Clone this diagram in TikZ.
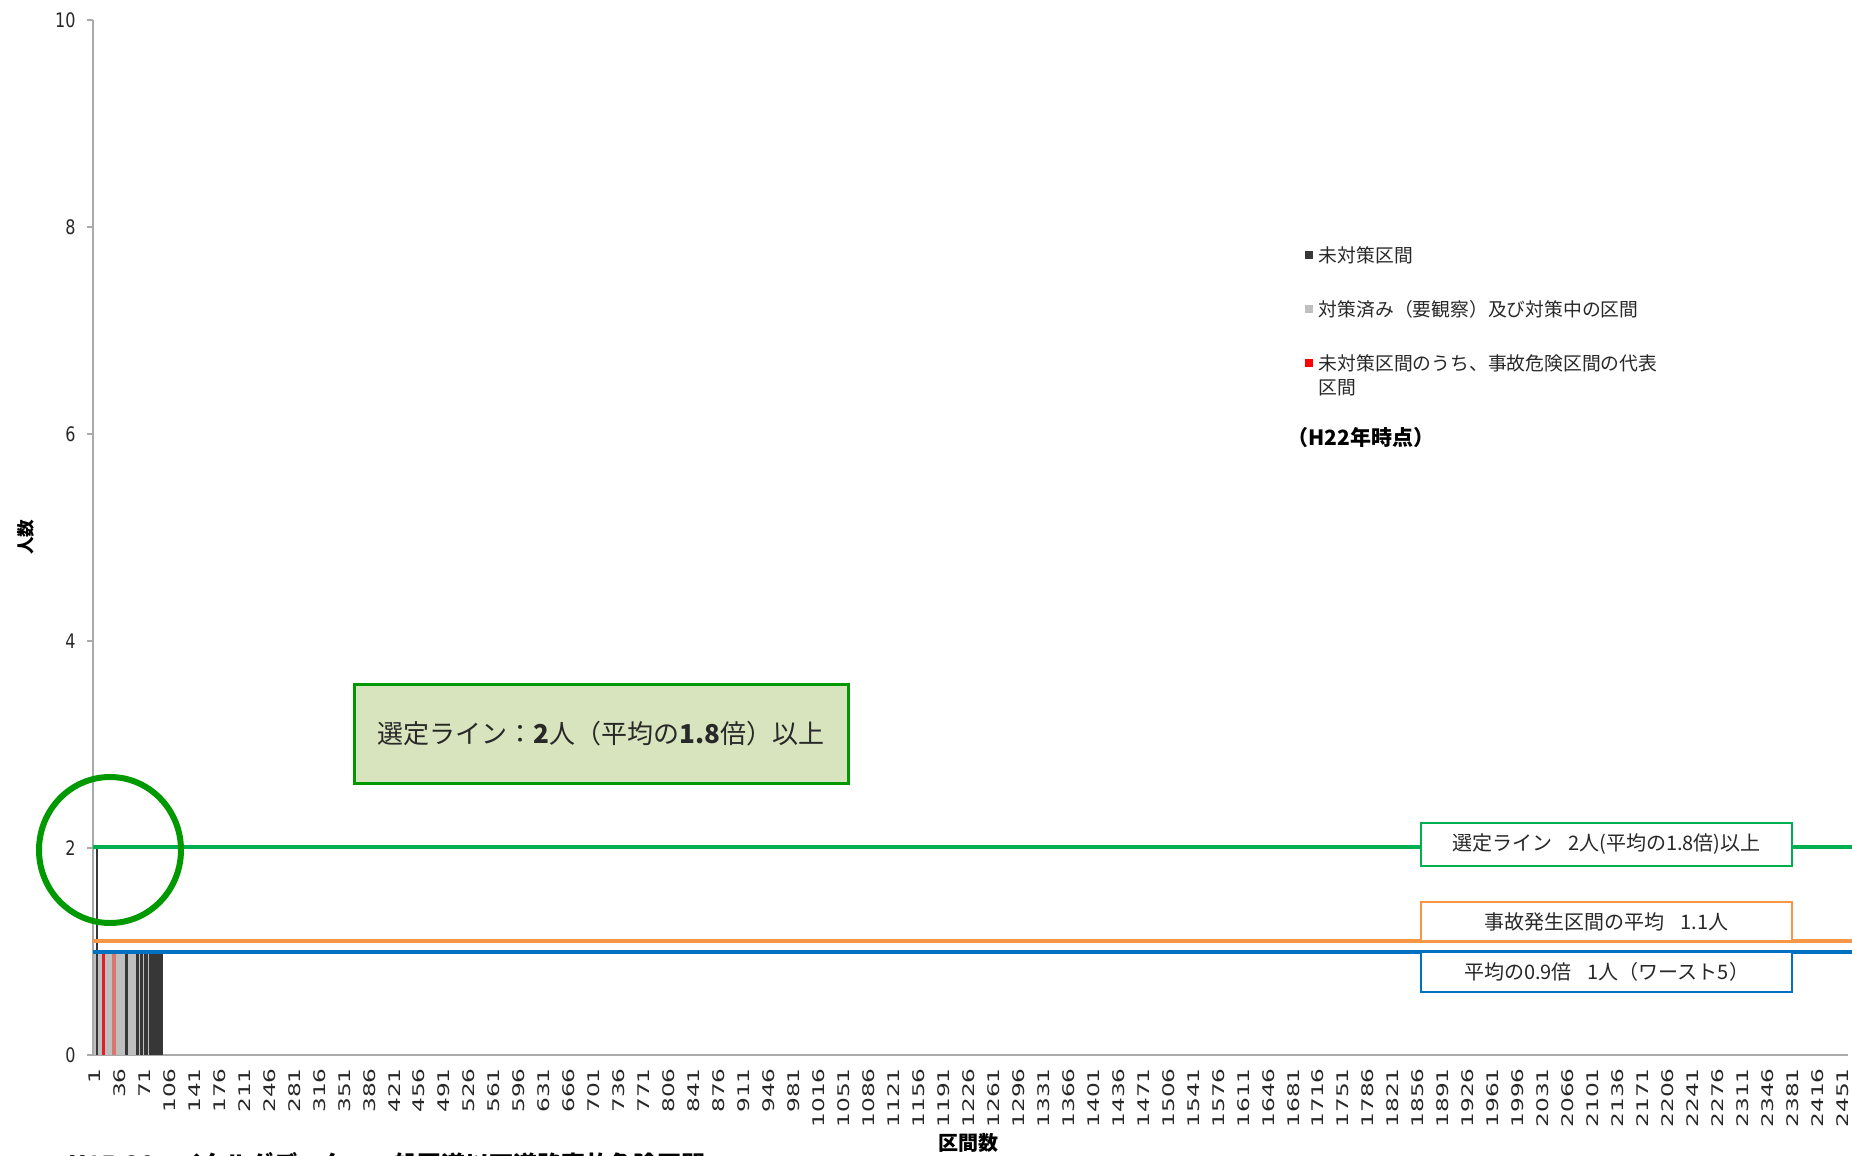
\documentclass[tikz,border=0pt]{standalone}
\usepackage{fontspec}
\setmainfont{Noto Sans CJK JP}
\newfontfamily\axisfont{DejaVu Sans}
\usetikzlibrary{positioning}
\definecolor{selgreen}{RGB}{0,176,80}
\definecolor{circgreen}{RGB}{0,153,0}
\definecolor{avgorange}{RGB}{247,150,70}
\definecolor{worstblue}{RGB}{0,112,192}
\definecolor{notefill}{RGB}{215,228,189}
\definecolor{bardark}{RGB}{55,55,55}
\definecolor{barlight}{RGB}{191,191,191}
\definecolor{barred}{RGB}{225,30,40}
\definecolor{barsalmon}{RGB}{215,120,110}
\definecolor{axisgray}{RGB}{170,170,170}
\definecolor{inkgray}{RGB}{40,40,40}
\tikzset{
  ticklab/.style={font=\axisfont\fontsize{8}{9}\selectfont, text=inkgray, inner sep=0pt},
  legtext/.style={font=\fontsize{9.4}{11}\selectfont, text=inkgray, inner sep=0pt},
  legmark/.style={minimum size=4pt, inner sep=0pt},
  linebox/.style={draw, line width=1.4pt, fill=white, minimum width=185.5pt,
    inner sep=0pt, text=inkgray, font=\fontsize{10}{12}\selectfont},
}
\begin{document}
\begin{tikzpicture}[x=0.5pt,y=-0.5pt]
  \useasboundingbox (0,0) rectangle (1852,1156);
  \clip (0,0) rectangle (1852,1156);
  % axes
  \draw[axisgray, line width=0.8pt] (93,20) -- (93,1055) -- (1848,1055);
  \foreach \v in {0,2,...,10} {
    \draw[axisgray, line width=0.6pt] (87,{1055-103.5*\v}) -- (93,{1055-103.5*\v});
    \node[ticklab, anchor=east] (ylab\v) at (76,{1055-103.5*\v}) {\scalebox{1}[1.25]{\v}};
  }
  \foreach \k in {1,36,...,2451}
    \node[ticklab, rotate=90, anchor=east] (xlab\k) at ({94.5+(\k-1)*0.7135},1068) {\scalebox{1.45}[1]{\k}};
  \node[rotate=90, font=\bfseries\fontsize{8.8}{10}\selectfont] (ytitle) at (26,537) {人数};
  \node[font=\bfseries\fontsize{10}{12}\selectfont] (xtitle) at (968,1143) {区間数};
  \node[anchor=north west, inner sep=0pt, font=\bfseries\fontsize{12}{14}\selectfont] (source) at (68,1152) {H15-20　イタルダデータ　一般国道以下道路事故危険区間};
  % bars
  \foreach \xa/\xb/\c in {94/96/barlight, 96/98/bardark, 98/102/barlight, 102/105/barred,
      105/112/barlight, 112/116/barsalmon, 116/125/barlight, 125/128/bardark,
      128/136/barlight, 136/163/bardark}
    \fill[\c] (\xa,952) rectangle (\xb,1055);
  \foreach \xa in {139,143,147.5}
    \fill[barlight] (\xa,952) rectangle (\xa+0.8,1055);
  \fill[bardark] (96,848) rectangle (98,1055);
  % reference lines
  \coordinate (selL) at (93,847);
  \coordinate (selR) at (1852,847);
  \coordinate (avgL) at (93,941);
  \coordinate (avgR) at (1852,941);
  \coordinate (worstL) at (93,952);
  \coordinate (worstR) at (1852,952);
  \draw[selgreen, line width=2pt] (selL) -- (selR);
  \draw[avgorange, line width=1.8pt] (avgL) -- (avgR);
  \draw[worstblue, line width=2.3pt] (worstL) -- (worstR);
  \draw[circgreen, line width=3pt] (110,850) ellipse [x radius=35.5pt, y radius=36.5pt];
  % labels of the lines
  \node[draw=circgreen, line width=1.5pt, fill=notefill, minimum width=247pt, minimum height=49.5pt,
    inner sep=0pt, text=inkgray, font=\fontsize{13}{15}\selectfont] (selnote) at (601,733.5)
    {選定ライン：\textbf{2}人（平均の\textbf{1.8}倍）以上};
  \node[linebox, draw=selgreen, minimum height=21.5pt] (selbox) at (1606.5,844.5)
    {選定ライン\hspace{0.8em}2人(平均の1.8倍)以上};
  \node[linebox, draw=avgorange, minimum height=19.5pt] (avgbox) at (1606.5,921.5)
    {事故発生区間の平均\hspace{0.8em}1.1人};
  \node[linebox, draw=worstblue, minimum height=20pt] (worstbox) at (1606.5,972)
    {平均の0.9倍\hspace{0.8em}1人（ワースト5）};
  % legend
  \node[legmark, fill=bardark] (mark1) at (1309,255) {};
  \node[legtext, right=2.5pt of mark1] (leg1) {未対策区間};
  \node[legmark, fill=barlight] (mark2) at (1309,309) {};
  \node[legtext, right=2.5pt of mark2] (leg2) {対策済み（要観察）及び対策中の区間};
  \node[legmark, fill=red] (mark3) at (1309,363) {};
  \node[legtext, right=2.5pt of mark3] (leg3) {未対策区間のうち、事故危険区間の代表};
  \node[legtext, anchor=west] (leg3b) at (leg3.west |- 0,388) {区間};
  \node[font=\bfseries\fontsize{10.5}{12}\selectfont] (era) at (1361,438) {（H22年時点）};
\end{tikzpicture}
\end{document}
